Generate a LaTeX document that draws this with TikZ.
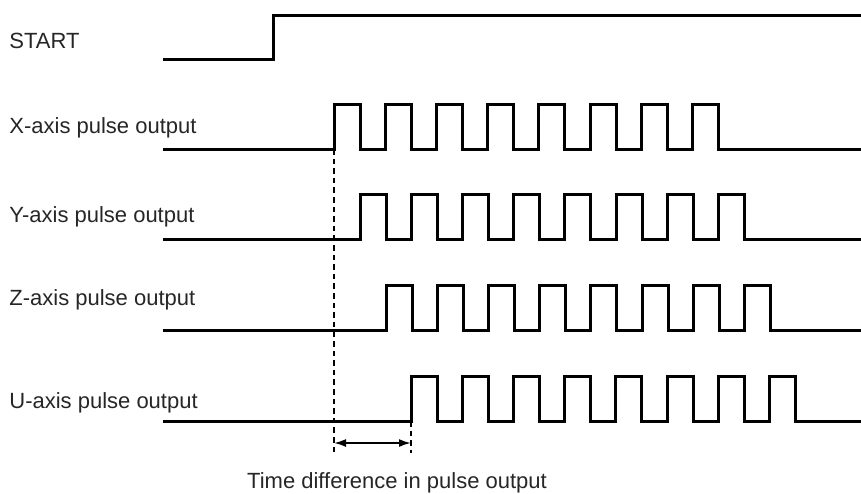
\documentclass[tikz,border=0pt]{standalone}
\usepackage{fontspec}
\setmainfont{Liberation Sans}
\usetikzlibrary{arrows.meta}

\begin{document}
\begin{tikzpicture}[
    x=0.5pt, y=-0.5pt,
    wave/.style={line width=1.5pt, line join=miter},
    lbl/.style={anchor=base west, inner sep=0pt, text=black!85, font=\fontsize{11}{13}\selectfont},
    guide/.style={line width=1pt, dash pattern=on 2.8pt off 2pt},
    span/.style={line width=0.9pt, {Latex[length=6pt,width=4pt]}-{Latex[length=6pt,width=4pt]}}
]
\useasboundingbox (0,0) rectangle (861,493);

% signal names
\node[lbl] (startlbl) at (9,48)  {START};
\node[lbl] (xlbl)     at (9,133) {X-axis pulse output};
\node[lbl] (ylbl)     at (9,222) {Y-axis pulse output};
\node[lbl] (zlbl)     at (9,305) {Z-axis pulse output};
\node[lbl] (ulbl)     at (9,408) {U-axis pulse output};

% start signal -- one rising edge
\draw[wave] (163,59) -- (273,59) -- (273,15) -- (861,15);

% pulse trains, each one half period behind the one above
\foreach \first/\base in {334/149, 360/239, 386/330, 411/421}{
  \draw[wave] (163,\base)
    \foreach \k in {0,...,7}{
      -- ({\first+51.2*\k},\base) -- ({\first+51.2*\k},\base-45)
      -- ({\first+51.2*\k+26},\base-45) -- ({\first+51.2*\k+26},\base)
    } -- (861,\base);
}

% time difference between first and last axis
\coordinate (xrise) at (334,149);
\coordinate (urise) at (411,421);
\coordinate (xfoot) at (334,453);
\coordinate (ufoot) at (411,453);
\coordinate (arrl)  at (334,443);
\coordinate (arrr)  at (411,443);
\draw[guide] (xrise) -- (xfoot);
\draw[guide] (urise) -- (ufoot);
\draw[span] (arrl) -- (arrr);

\node[lbl, anchor=base] (difflbl) at (397,488) {Time difference in pulse output};
\end{tikzpicture}
\end{document}
